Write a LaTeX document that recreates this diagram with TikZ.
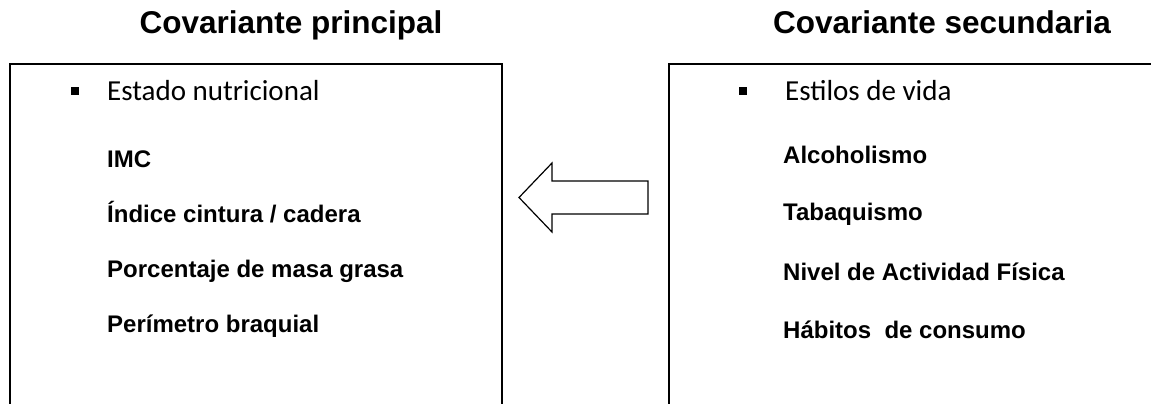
\documentclass[tikz,border=0pt]{standalone}
\usepackage{fontspec}
\setmainfont{Liberation Sans}
\newfontfamily\calibrifont{Carlito}
\usepackage{tikz}
\usetikzlibrary{positioning}
\tikzstyle{colbox}=[
  draw, rectangle, line width=1.6pt, inner sep=0pt, anchor=north west
]
\tikzstyle{coltitle}=[
  font=\fontsize{31.5}{36}\selectfont\bfseries, inner sep=0pt, anchor=base
]
\tikzstyle{itemhead}=[
  font=\calibrifont\fontsize{29}{33}\selectfont, inner sep=0pt, anchor=base west
]
\tikzstyle{itemtext}=[
  font=\fontsize{24}{28}\selectfont\bfseries, inner sep=0pt, anchor=base west
]
\tikzstyle{bulletmark}=[
  fill, rectangle, minimum size=8.5pt, inner sep=0pt
]
\tikzset{
  blockarrow/.style={draw, line width=1.2pt, fill=white, line join=miter},
}

\begin{document}
\begin{tikzpicture}[x=1pt, y=-1pt]
  \useasboundingbox (0,0) rectangle (1151,404);
  \clip (0,0) rectangle (1151,404);
  % titles
  \node (tprin) at (291,34) [coltitle] {Covariante principal};
  \node (tsec) at (942,34) [coltitle] {Covariante secundaria};
  % boxes, open at the bottom
  \node (principal) at (9,63) [colbox, minimum width=492pt, minimum height=380pt] {};
  \node (secundaria) at (668,63) [colbox, minimum width=500pt, minimum height=380pt] {};
  % left column
  \node (b1) at (75,91) [bulletmark] {};
  \node (estado) at (107,100) [itemhead] {Estado nutricional};
  \node (imc) at (107,167) [itemtext] {IMC};
  \node (indice) at (107,222) [itemtext] {Índice cintura / cadera};
  \node (grasa) at (107,277) [itemtext] {Porcentaje de masa grasa};
  \node (braquial) at (107,332) [itemtext] {Perímetro braquial};
  % right column
  \node (b2) at (743,91) [bulletmark] {};
  \node (estilos) at (785,100) [itemhead] {Estilos de vida};
  \node (alcohol) at (783,163) [itemtext] {Alcoholismo};
  \node (tabaco) at (783,220) [itemtext] {Tabaquismo};
  \node (actividad) at (783,280) [itemtext] {Nivel de Actividad Física};
  \node (habitos) at (783,338) [itemtext] {Hábitos\ \ de consumo};
  % block arrow
  \draw [blockarrow] (519,197.5) -- (552,163) -- (552,181) -- (648,181)
    -- (648,214) -- (552,214) -- (552,232) -- cycle;
\end{tikzpicture}
\end{document}
